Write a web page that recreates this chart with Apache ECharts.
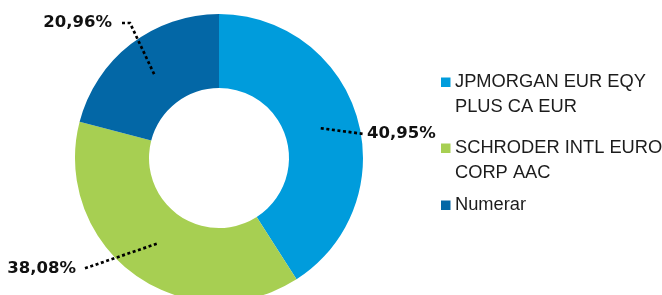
<!DOCTYPE html>
<html>
<head>
<meta charset="utf-8">
<script src="https://cdn.jsdelivr.net/npm/echarts@6/dist/echarts.min.js"></script>
<style>
  html, body { margin: 0; padding: 0; background: #fff; }
  #chart { width: 662px; height: 295px; }
</style>
</head>
<body>
<div id="chart"></div>
<script>
// data
var categories = ['JPMORGAN EUR EQY PLUS CA EUR', 'SCHRODER INTL EURO CORP AAC', 'Numerar'];
var legendLines = [['JPMORGAN EUR EQY', 'PLUS CA EUR'], ['SCHRODER INTL EURO', 'CORP AAC'], ['Numerar']];
var shares = [40.95, 38.08, 20.96];
var colors = ['#009cdc', '#a7cf52', '#0367a6'];

// layout
var legendTops = [70, 136, 193];
// where each dotted leader ends, and where its label text sits
var leaderEnds = [[364, 134], [83, 269], [122, 23]];
var leaderKnee = [0, 0, 8];
var labelSide = ['left', 'right', 'right'];
var labelGap = [3, 7, 10];

var fmt = function (v) { return v.toFixed(2).replace('.', ',') + '%'; };

var pieData = categories.map(function (c, i) {
    return { name: c, value: shares[i], itemStyle: { color: colors[i] } };
});

var rich = { gap: { width: 4.5 }, ind: { width: 14 } };
colors.forEach(function (c, i) {
    rich['sq' + i] = { width: 9.5, height: 9.5, backgroundColor: c };
});

var legends = categories.map(function (c, i) {
    return {
        data: [c],
        left: 436,
        top: legendTops[i],
        padding: 0,
        icon: 'none',
        itemWidth: 0,
        itemHeight: 0,
        selectedMode: false,
        formatter: function () {
            return legendLines[i].map(function (line, k) {
                return (k === 0 ? '{sq' + i + '|}{gap|}' : '{ind|}') + line;
            }).join('\n');
        },
        textStyle: {
            fontFamily: 'Liberation Sans',
            fontSize: 18.3,
            color: '#1c1c1c',
            lineHeight: 24.5,
            rich: rich
        }
    };
});

var myChart = echarts.init(document.getElementById('chart'));
myChart.setOption({
    animation: false,
    legend: legends,
    series: [
        {
            type: 'pie',
            center: [219, 158],
            radius: [70, 144],
            startAngle: 90,
            clockwise: true,
            silent: true,
            label: { show: false },
            labelLine: { show: false },
            emphasis: { disabled: true },
            data: pieData
        },
        {
            // invisible copy, only carries the labels and their leaders
            type: 'pie',
            center: [219, 158],
            radius: [0, 106],
            startAngle: 90,
            clockwise: true,
            silent: true,
            z: 3,
            avoidLabelOverlap: false,
            itemStyle: { color: 'rgba(0,0,0,0)' },
            emphasis: { disabled: true },
            label: {
                show: true,
                position: 'outside',
                formatter: function (p) { return fmt(p.value); },
                fontFamily: 'DejaVu Sans',
                fontWeight: 'bold',
                fontSize: 16.5,
                color: '#111'
            },
            labelLine: {
                show: true,
                length: 10,
                length2: 10,
                lineStyle: { color: '#000', width: 2.7, type: [3, 2.6] }
            },
            labelLayout: function (params) {
                var i = params.dataIndex;
                var start = params.labelLinePoints[0];
                var end = leaderEnds[i];
                var dir = labelSide[i] === 'left' ? 1 : -1;
                var knee = [end[0] - dir * leaderKnee[i], end[1]];
                return {
                    x: end[0] + dir * labelGap[i],
                    y: end[1],
                    align: labelSide[i],
                    verticalAlign: 'middle',
                    labelLinePoints: [start, knee, end]
                };
            },
            data: pieData.map(function (d) { return { name: d.name, value: d.value }; })
        }
    ]
});
</script>
</body>
</html>
